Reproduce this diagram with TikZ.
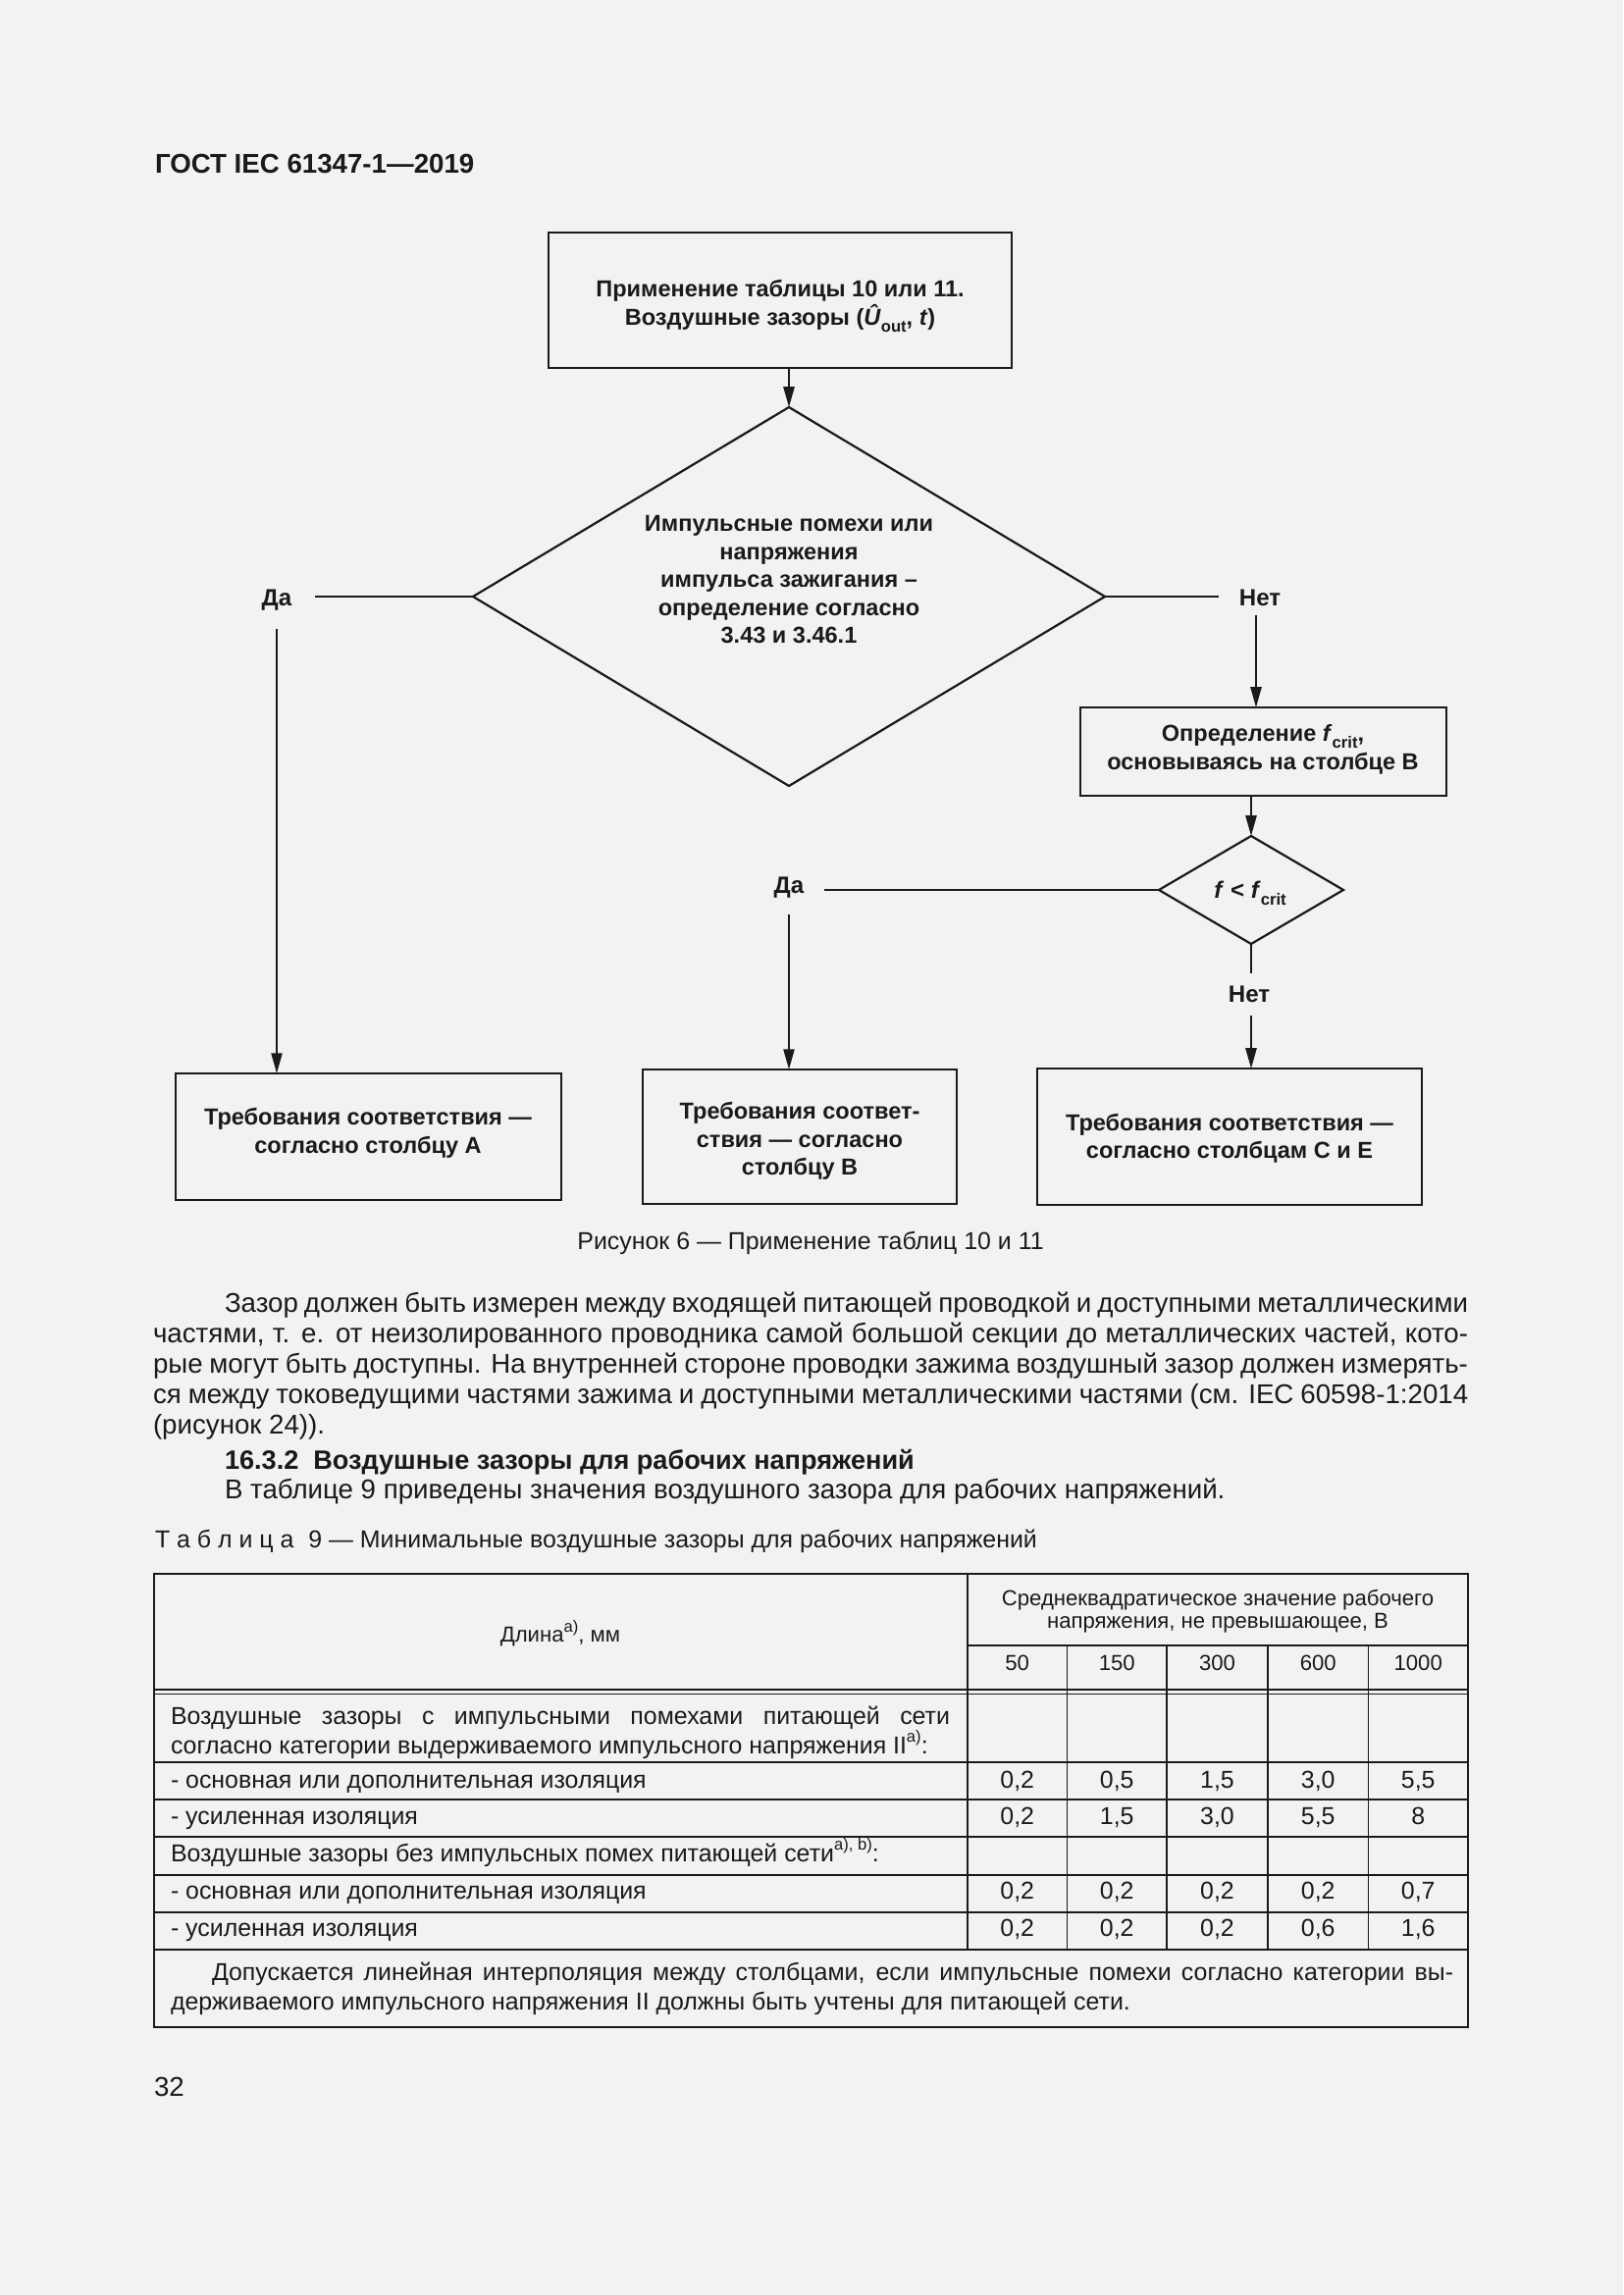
\documentclass[tikz,border=0pt]{standalone}
\usepackage{fontspec}
\setmainfont{Liberation Sans}
\usetikzlibrary{arrows.meta,shapes.geometric}
\definecolor{bg}{RGB}{242,242,242}
\definecolor{ink}{RGB}{26,26,26}
\newcommand\lsub[1]{\raisebox{-0.28em}{\fontsize{6}{6}\selectfont #1}}
\newcommand\lsup[1]{\raisebox{0.45em}{\fontsize{6}{6}\selectfont #1}}
\newcommand\jline[2]{\makebox[#1][s]{\spaceskip=0.278em plus 3em minus 0.12em\relax #2}}
\begin{document}
\begin{tikzpicture}[x=0.36135pt,y=-0.36135pt,
  every node/.style={inner sep=0pt, outer sep=0pt, text=ink},
  shp/.style={draw=ink, line width=0.8pt},
  dtext/.style={font=\fontsize{8.5}{10.3}\selectfont\bfseries, align=center},
  lbl/.style={font=\fontsize{8.7}{10}\selectfont\bfseries},
  conn/.style={draw=ink, line width=0.8pt},
  arr/.style={conn, -{Triangle[length=7.5pt,width=4pt]}},
  body/.style={font=\fontsize{10}{12}\selectfont, anchor=base west},
  tab/.style={font=\fontsize{9}{11}\selectfont, anchor=base west},
  tabv/.style={font=\fontsize{9}{11}\selectfont, anchor=base},
  tabh/.style={font=\fontsize{8}{10}\selectfont, anchor=base},
  rule/.style={draw=ink, line width=0.7pt},
]
\fill[bg] (0,0) rectangle (1654,2339);
\useasboundingbox (0,0) rectangle (1654,2339);

% header
\node[anchor=base west, font=\fontsize{10}{12}\selectfont\bfseries] (hdr) at (158,177) {ГОСТ IEC 61347-1—2019};

% ---------- flowchart ----------
\node[shp, rectangle, minimum width=170.56pt, minimum height=49.87pt] (b0) at (795,306) {};
\node[dtext] (b0t) at (795,312) {Применение таблицы 10 или 11.\\Воздушные зазоры (\textit{Û}\lsub{out}, \textit{t})};

\node[shp, diamond, minimum width=232.71pt, minimum height=139.48pt] (d1) at (804,608) {};
\node[dtext] (d1t) at (804,591) {Импульсные помехи или\\напряжения\\импульса зажигания –\\определение согласно\\3.43 и 3.46.1};

\draw[arr] (b0.south -| d1.north) -- (d1.north);

\node[lbl] (yes1) at (282,612) {Да};
\node[lbl] (no1) at (1284,609) {Нет};
\coordinate (y1a) at (321,608);
\coordinate (y1b) at (282,641);
\coordinate (n1a) at (1242,608);
\coordinate (n1b) at (1280,627);

\node[shp, rectangle, minimum width=134.78pt, minimum height=32.52pt] (bF) at (1287.5,766) {};
\node[dtext] (bFt) at (1287,764) {Определение \textit{f}\lsub{crit},\\основываясь на столбце В};

\node[shp, diamond, minimum width=67.93pt, minimum height=39.75pt] (d2) at (1275,907) {};
\node[font=\fontsize{8.7}{10}\selectfont\bfseries] (d2t) at (1274,910) {\textit{f} < \textit{f}\lsub{crit}};

\node[lbl] (yes2) at (804,905) {Да};
\node[lbl] (no2) at (1273,1013) {Нет};
\coordinate (y2a) at (840,907);
\coordinate (y2b) at (804,932);
\coordinate (n2a) at (1275,992);
\coordinate (n2b) at (1275,1035);

\node[shp, rectangle, minimum width=142.01pt, minimum height=46.61pt] (bA) at (375.5,1158.5) {};
\node[dtext] (bAt) at (375,1155) {Требования соответствия —\\согласно столбцу A};
\node[shp, rectangle, minimum width=115.63pt, minimum height=49.50pt] (bB) at (815,1158.5) {};
\node[dtext] (bBt) at (815,1163) {Требования соответ-\\ствия — согласно\\столбцу B};
\node[shp, rectangle, minimum width=141.65pt, minimum height=50.23pt] (bC) at (1253,1158.5) {};
\node[dtext] (bCt) at (1253,1160) {Требования соответствия —\\согласно столбцам C и E};

\draw[conn] (d1.west) -- (y1a);
\draw[arr] (y1b) -- (y1b |- bA.north);
\draw[conn] (d1.east) -- (n1a);
\draw[arr] (n1b) -- (n1b |- bF.north);
\draw[arr] (bF.south -| d2.north) -- (d2.north);
\draw[conn] (d2.west) -- (y2a);
\draw[arr] (y2b) -- (y2b |- bB.north);
\draw[conn] (d2.south) -- (n2a);
\draw[arr] (n2b) -- (n2b |- bC.north);

\node[anchor=base, font=\fontsize{9}{11}\selectfont] (cap) at (826,1273) {Рисунок 6 — Применение таблиц 10 и 11};

% ---------- body text ----------
\node[body] (p1) at (229,1337) {\jline{457.83pt}{Зазор должен быть измерен между входящей питающей проводкой и доступными металлическими}};
\node[body] (p2) at (156,1368) {\jline{484.21pt}{частями, т. е. от неизолированного проводника самой большой секции до металлических частей, кото-}};
\node[body] (p3) at (156,1399) {\jline{484.21pt}{рые могут быть доступны. На внутренней стороне проводки зажима воздушный зазор должен измерять-}};
\node[body] (p4) at (156,1430) {\jline{484.21pt}{ся между токоведущими частями зажима и доступными металлическими частями (см. IEC 60598-1:2014}};
\node[body] (p5) at (156,1461) {(рисунок 24)).};
\node[body, font=\fontsize{9.8}{12}\selectfont\bfseries] (h1) at (229,1497) {16.3.2\hspace{0.55em}Воздушные зазоры для рабочих напряжений};
\node[body] (p6) at (229,1527) {В таблице 9 приведены значения воздушного зазора для рабочих напряжений.};

% ---------- table ----------
\node[anchor=base west, font=\fontsize{9}{11}\selectfont] (tcap) at (158,1577) {Т а б л и ц а\hspace{0.6em}9 — Минимальные воздушные зазоры для рабочих напряжений};

\draw[rule] (157,1604) rectangle (1496,2066);
\draw[rule] (986,1677) -- (1496,1677);
\draw[rule] (157,1722) -- (1496,1722);
\draw[rule] (157,1726.5) -- (1496,1726.5);
\foreach \yy in {1796,1834,1872,1911,1949,1987}
  \draw[rule] (157,\yy) -- (1496,\yy);
\draw[rule] (986,1604) -- (986,1987);
\foreach \xx in {1087.5,1189,1292,1394.5}
  \draw[rule] (\xx,1677) -- (\xx,1987);

\node[tabh] (th1) at (571,1673) {Длина\lsup{a)}, мм};
\node[tabh] (th2) at (1241,1636) {Среднеквадратическое значение рабочего};
\node[tabh] (th3) at (1241,1659) {напряжения, не превышающее, В};
\node[tabh] (c50) at (1036.7,1702) {50};
\node[tabh] (c150) at (1138.2,1702) {150};
\node[tabh] (c300) at (1240.5,1702) {300};
\node[tabh] (c600) at (1343.2,1702) {600};
\node[tabh] (c1000) at (1445.2,1702) {1000};

\node[tab] (r1a) at (174,1757) {\jline{286.91pt}{Воздушные зазоры с импульсными помехами питающей сети}};
\node[tab] (r1b) at (174,1787) {согласно категории выдерживаемого импульсного напряжения II\lsup{a)}:};
\node[tab] (r2) at (174,1822) {- основная или дополнительная изоляция};
\node[tab] (r3) at (174,1859) {- усиленная изоляция};
\node[tab] (r4) at (174,1897) {Воздушные зазоры без импульсных помех питающей сети\lsup{a), b)}:};
\node[tab] (r5) at (174,1935) {- основная или дополнительная изоляция};
\node[tab] (r6) at (174,1973) {- усиленная изоляция};

\node[tabv] (v21) at (1036.7,1822) {0,2};
\node[tabv] (v22) at (1138.2,1822) {0,5};
\node[tabv] (v23) at (1240.5,1822) {1,5};
\node[tabv] (v24) at (1343.2,1822) {3,0};
\node[tabv] (v25) at (1445.2,1822) {5,5};
\node[tabv] (v31) at (1036.7,1859) {0,2};
\node[tabv] (v32) at (1138.2,1859) {1,5};
\node[tabv] (v33) at (1240.5,1859) {3,0};
\node[tabv] (v34) at (1343.2,1859) {5,5};
\node[tabv] (v35) at (1445.2,1859) {8};
\node[tabv] (v51) at (1036.7,1935) {0,2};
\node[tabv] (v52) at (1138.2,1935) {0,2};
\node[tabv] (v53) at (1240.5,1935) {0,2};
\node[tabv] (v54) at (1343.2,1935) {0,2};
\node[tabv] (v55) at (1445.2,1935) {0,7};
\node[tabv] (v61) at (1036.7,1973) {0,2};
\node[tabv] (v62) at (1138.2,1973) {0,2};
\node[tabv] (v63) at (1240.5,1973) {0,2};
\node[tabv] (v64) at (1343.2,1973) {0,6};
\node[tabv] (v65) at (1445.2,1973) {1,6};

\node[tab] (n1) at (216,2018) {\jline{457.11pt}{Допускается линейная интерполяция между столбцами, если импульсные помехи согласно категории вы-}};
\node[tab] (n2) at (174,2048) {держиваемого импульсного напряжения II должны быть учтены для питающей сети.};

\node[anchor=base west, font=\fontsize{10}{12}\selectfont] (pg) at (157,2136) {32};
\end{tikzpicture}
\end{document}
